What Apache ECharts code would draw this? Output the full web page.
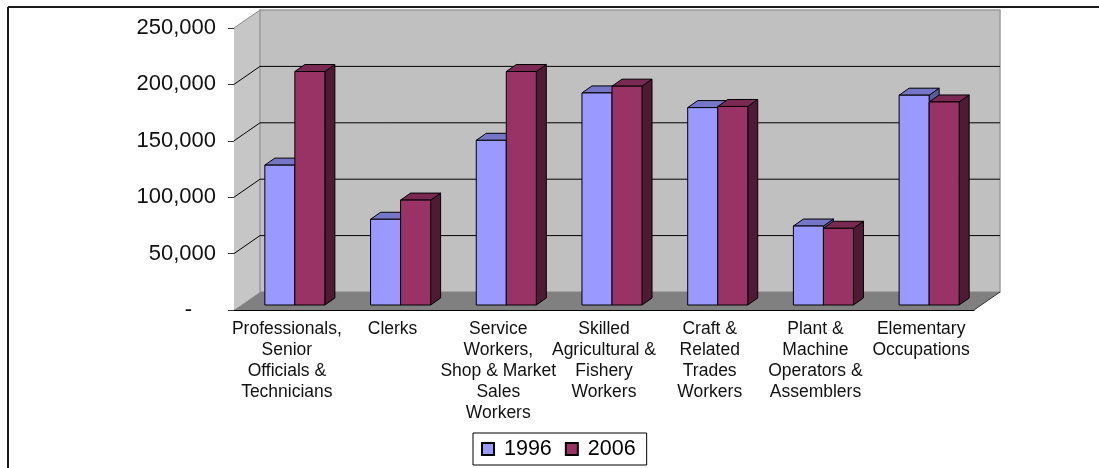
<!DOCTYPE html>
<html>
<head>
<meta charset="utf-8">
<script src="https://cdn.jsdelivr.net/npm/echarts@6/dist/echarts.min.js"></script>
<style>
  html, body { margin: 0; padding: 0; background: #fff; }
  #chart { width: 1099px; height: 468px; }
</style>
</head>
<body>
<div id="chart"></div>
<script>
  const categories = [
    'Professionals,\nSenior\nOfficials &\nTechnicians',
    'Clerks',
    'Service\nWorkers,\nShop & Market\nSales\nWorkers',
    'Skilled\nAgricultural &\nFishery\nWorkers',
    'Craft &\nRelated\nTrades\nWorkers',
    'Plant &\nMachine\nOperators &\nAssemblers',
    'Elementary\nOccupations'
  ];
  const values1996 = [124000, 76000, 146000, 188000, 175000, 70000, 186000];
  const values2006 = [207000, 93000, 207000, 194000, 176000, 68000, 180000];
  const yTicks = [0, 50000, 100000, 150000, 200000, 250000];

  // fake 3d: depth of walls / bars in px
  const WALL_D = [26, -18];
  const BAR_FRONT = [8, -5];
  const BAR_D = [10, -7];
  const BAR_RATIO = 0.284;

  const font = 'Liberation Sans, Arial, sans-serif';

  function renderFrame(params, api) {
    const cs = params.coordSys;
    const x0 = cs.x, x1 = cs.x + cs.width;
    const yT = cs.y, yB = cs.y + cs.height;
    const dx = WALL_D[0], dy = WALL_D[1];
    const kids = [
      {
        type: 'polygon',
        shape: { points: [[x0, yT], [x0 + dx, yT + dy], [x0 + dx, yB + dy], [x0, yB]] },
        style: { fill: '#c6c6c6' }
      },
      {
        type: 'rect',
        shape: { x: x0 + dx, y: yT + dy, width: cs.width, height: cs.height },
        style: { fill: '#c0c0c0', stroke: '#9a9a9a', lineWidth: 1.5 }
      },
      {
        type: 'polygon',
        shape: { points: [[x0, yB], [x0 + dx, yB + dy], [x1 + dx, yB + dy], [x1, yB]] },
        style: { fill: '#808080' }
      },
      {
        type: 'line',
        shape: { x1: x1, y1: yB, x2: x1 + dx, y2: yB + dy },
        style: { stroke: '#333', lineWidth: 1 }
      }
    ];
    yTicks.forEach(function (t) {
      if (t === 0) return;
      const y = api.coord([0, t])[1];
      const last = t === yTicks[yTicks.length - 1];
      kids.push({
        type: 'polyline',
        shape: { points: last
          ? [[x0, y], [x0 + dx, y + dy]]
          : [[x0, y], [x0 + dx, y + dy], [x1 + dx, y + dy]] },
        style: { stroke: last ? '#8a8a8a' : '#000', lineWidth: 1, fill: null }
      });
    });
    return { type: 'group', children: kids };
  }

  function barRenderer(pos, front, topCol, side) {
    return function (params, api) {
      const idx = api.value(0);
      const base = api.coord([idx, 0]);
      const top = api.coord([idx, api.value(1)]);
      const catW = api.size([1, 0])[0];
      const w = catW * BAR_RATIO;
      const xL = base[0] - w + pos * w + BAR_FRONT[0];
      const xR = xL + w;
      const yB = base[1] + BAR_FRONT[1];
      const yT = top[1] + BAR_FRONT[1];
      const bx = BAR_D[0], by = BAR_D[1];
      const edge = { stroke: '#000', lineWidth: 1, lineJoin: 'round' };
      return {
        type: 'group',
        children: [
          {
            type: 'polygon',
            shape: { points: [[xR, yT], [xR + bx, yT + by], [xR + bx, yB + by], [xR, yB]] },
            style: Object.assign({ fill: side }, edge)
          },
          {
            type: 'polygon',
            shape: { points: [[xL, yT], [xL + bx, yT + by], [xR + bx, yT + by], [xR, yT]] },
            style: Object.assign({ fill: topCol }, edge)
          },
          {
            type: 'rect',
            shape: { x: xL, y: yT, width: w, height: yB - yT },
            style: Object.assign({ fill: front }, edge)
          }
        ]
      };
    };
  }

  const chart = echarts.init(document.getElementById('chart'));
  const option = {
    animation: false,
    backgroundColor: '#fff',
    grid: { left: 234, top: 28, right: 125, bottom: 158 },
    xAxis: {
      type: 'category',
      data: categories,
      axisLine: { lineStyle: { color: '#000', width: 1 } },
      axisTick: { length: 5, lineStyle: { color: '#808080' } },
      axisLabel: {
        interval: 0,
        color: '#111',
        fontFamily: font,
        fontSize: 17.5,
        lineHeight: 21,
        margin: 9
      },
      splitLine: { show: false }
    },
    yAxis: {
      type: 'value',
      min: 0,
      max: 250000,
      interval: 50000,
      axisLine: { show: true, lineStyle: { color: '#555', width: 1 } },
      axisTick: { show: true, length: 6, lineStyle: { color: '#333' } },
      splitLine: { show: false },
      axisLabel: {
        color: '#111',
        fontFamily: font,
        fontSize: 22,
        margin: 18,
        formatter: function (v) {
          return v === 0 ? '{d|-}' : v.toLocaleString('en-US');
        },
        rich: { d: { fontSize: 22, fontFamily: font, color: '#111', padding: [0, 24, 0, 0] } }
      }
    },
    legend: {
      data: ['1996', '2006'],
      left: 473,
      top: 433,
      orient: 'horizontal',
      icon: 'rect',
      itemWidth: 12,
      itemHeight: 12,
      itemGap: 13,
      padding: [5, 11, 5, 8],
      borderColor: '#000',
      borderWidth: 1,
      borderRadius: 0,
      textStyle: { fontFamily: font, fontSize: 21.5, color: '#000', padding: [0, 0, 0, 5] }
    },
    graphic: [
      { type: 'line', shape: { x1: 8, y1: 7, x2: 1099, y2: 7 }, style: { stroke: '#1a1a1a', lineWidth: 2 }, z: 100 },
      { type: 'line', shape: { x1: 8, y1: 7, x2: 8, y2: 468 }, style: { stroke: '#1a1a1a', lineWidth: 2 }, z: 100 }
    ],
    series: [
      {
        name: 'frame',
        type: 'custom',
        z: 1,
        silent: true,
        data: [[0, 0]],
        renderItem: renderFrame
      },
      {
        name: '1996',
        type: 'custom',
        z: 3,
        itemStyle: { color: '#9999ff', borderColor: '#000', borderWidth: 1 },
        data: values1996.map(function (v, i) { return [i, v]; }),
        renderItem: barRenderer(0, '#9999ff', '#7676c8', '#5c5c99')
      },
      {
        name: '2006',
        type: 'custom',
        z: 4,
        itemStyle: { color: '#993366', borderColor: '#000', borderWidth: 1 },
        data: values2006.map(function (v, i) { return [i, v]; }),
        renderItem: barRenderer(1, '#993366', '#7a2952', '#4f1a33')
      }
    ]
  };
  chart.setOption(option);
</script>
</body>
</html>
